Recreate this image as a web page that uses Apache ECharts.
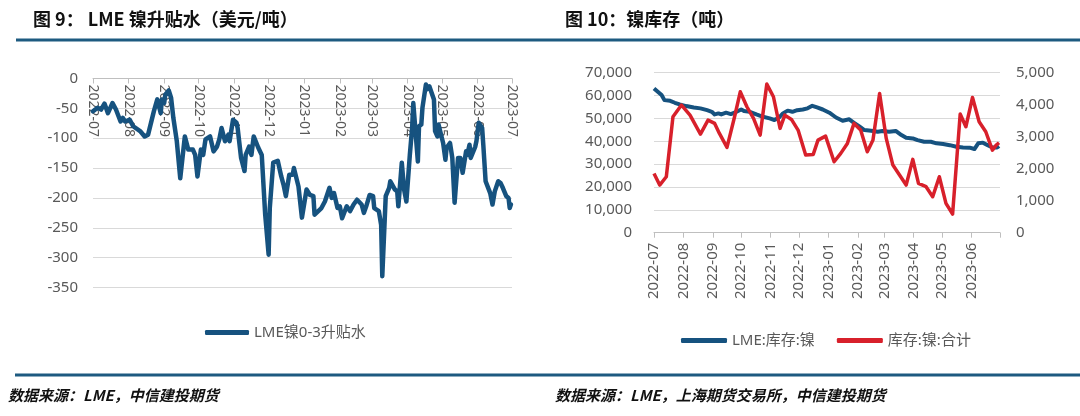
<!DOCTYPE html>
<html>
<head>
<meta charset="utf-8">
<script src="https://cdn.jsdelivr.net/npm/echarts@6/dist/echarts.min.js"></script>
<style>
  html, body { margin: 0; padding: 0; background: #fff; }
  #main { width: 1080px; height: 416px; }
</style>
</head>
<body>
<div id="main"></div>
<script>
// 图9：LME镍0-3升贴水
var spreadDates = ['2022-07-01','2022-07-05','2022-07-08','2022-07-11','2022-07-14','2022-07-18','2022-07-21','2022-07-25','2022-07-27','2022-07-29',
  '2022-08-02','2022-08-05','2022-08-11','2022-08-15','2022-08-18','2022-08-23','2022-08-26','2022-08-29','2022-08-30',
  '2022-09-01','2022-09-02','2022-09-05','2022-09-07','2022-09-09','2022-09-12','2022-09-15','2022-09-19','2022-09-22','2022-09-26','2022-09-28','2022-09-30',
  '2022-10-03','2022-10-05','2022-10-07','2022-10-11','2022-10-14','2022-10-17','2022-10-19','2022-10-21','2022-10-24','2022-10-27','2022-10-28','2022-10-31',
  '2022-11-03','2022-11-04','2022-11-07','2022-11-10','2022-11-11','2022-11-14','2022-11-16','2022-11-18','2022-11-22','2022-11-25','2022-11-28',
  '2022-12-01','2022-12-02','2022-12-05','2022-12-09','2022-12-12','2022-12-14','2022-12-16','2022-12-19','2022-12-22','2022-12-23','2022-12-27','2022-12-30',
  '2023-01-03','2023-01-06','2023-01-09','2023-01-10','2023-01-16','2023-01-19','2023-01-23','2023-01-25','2023-01-27','2023-01-30',
  '2023-02-01','2023-02-03','2023-02-07','2023-02-10','2023-02-13','2023-02-14','2023-02-16','2023-02-20','2023-02-22','2023-02-24','2023-02-27',
  '2023-03-02','2023-03-03','2023-03-07','2023-03-09','2023-03-10','2023-03-13','2023-03-16','2023-03-17','2023-03-21','2023-03-23','2023-03-24','2023-03-27','2023-03-29','2023-03-31',
  '2023-04-03','2023-04-05','2023-04-06','2023-04-10','2023-04-11','2023-04-13','2023-04-14','2023-04-17','2023-04-18','2023-04-20','2023-04-24','2023-04-25','2023-04-27','2023-04-28',
  '2023-05-02','2023-05-04','2023-05-05','2023-05-08','2023-05-10','2023-05-12','2023-05-15','2023-05-17','2023-05-19','2023-05-22','2023-05-23','2023-05-25','2023-05-26','2023-05-30','2023-05-31',
  '2023-06-02','2023-06-05','2023-06-06','2023-06-08','2023-06-12','2023-06-14','2023-06-16','2023-06-19','2023-06-21','2023-06-23','2023-06-26','2023-06-28','2023-06-29','2023-06-30'];
var spreadValues = [-55,-49,-52,-42,-58,-41,-52,-72,-66,-72,
  -69,-80,-88,-97,-94,-55,-35,-58,-35,
  -41,-27,-20,-32,-66,-105,-167,-97,-119,-119,-128,-164,
  -119,-128,-102,-97,-122,-114,-102,-83,-105,-94,-105,-69,
  -74,-83,-133,-155,-128,-114,-128,-97,-116,-128,-228,
  -295,-217,-141,-138,-164,-178,-197,-161,-161,-150,-181,-233,
  -186,-195,-197,-228,-217,-206,-183,-200,-192,-217,
  -214,-234,-214,-222,-211,-214,-203,-211,-225,-214,-195,
  -197,-217,-222,-245,-331,-197,-183,-172,-186,-189,-214,-141,-186,-206,
  -128,-83,-41,-139,-80,-77,-49,-10,-18,-13,-35,-88,-97,-77,
  -108,-136,-116,-108,-133,-208,-133,-133,-158,-122,-128,-111,-133,-114,-105,
  -74,-83,-111,-172,-192,-211,-189,-172,-175,-183,-197,-200,-217,-211];

// 图10：镍库存
var lmeStockDates = ['2022-07-01','2022-07-05','2022-07-09','2022-07-12','2022-07-18','2022-07-23','2022-07-28','2022-08-04','2022-08-12','2022-08-19','2022-08-26','2022-08-31',
  '2022-09-03','2022-09-07','2022-09-10','2022-09-15','2022-09-20','2022-09-26','2022-10-01','2022-10-04','2022-10-10','2022-10-17','2022-10-24','2022-10-31',
  '2022-11-05','2022-11-10','2022-11-14','2022-11-19','2022-11-24','2022-11-29','2022-12-05','2022-12-10','2022-12-15','2022-12-20','2022-12-26',
  '2023-01-02','2023-01-09','2023-01-16','2023-01-23','2023-01-28','2023-02-03','2023-02-08','2023-02-15','2023-02-22','2023-02-27',
  '2023-03-06','2023-03-13','2023-03-19','2023-03-24','2023-03-31','2023-04-05','2023-04-12','2023-04-19','2023-04-25',
  '2023-05-02','2023-05-09','2023-05-16','2023-05-23','2023-05-30','2023-06-04','2023-06-08','2023-06-13','2023-06-18','2023-06-23','2023-06-28','2023-06-30'];
var lmeStockValues = [63100,61660,60200,58000,57700,56850,56100,55400,54800,54400,53600,52900,
  51750,52200,51750,52500,51900,52900,53900,53200,52900,51750,50700,50000,
  49300,50400,52200,53400,52900,53600,53900,54400,55500,54800,53900,
  52500,50400,49000,49600,48100,46350,44900,44600,44200,44500,
  44200,44500,42700,41500,41250,40500,39800,39800,39100,
  38800,38300,37600,37300,37200,36600,39100,39400,38300,37300,37300,37900];

var shfeStockDates = ['2022-07-01','2022-07-07','2022-07-14','2022-07-21','2022-07-30','2022-08-08','2022-08-19','2022-08-27',
  '2022-09-03','2022-09-08','2022-09-16','2022-09-24','2022-09-30','2022-10-07','2022-10-14','2022-10-21','2022-10-28',
  '2022-11-04','2022-11-11','2022-11-16','2022-11-23','2022-11-30','2022-12-08','2022-12-16','2022-12-21','2022-12-29',
  '2023-01-07','2023-01-14','2023-01-21','2023-01-28','2023-02-04','2023-02-11','2023-02-17','2023-02-24',
  '2023-03-03','2023-03-10','2023-03-17','2023-03-24','2023-03-31','2023-04-06','2023-04-14','2023-04-21','2023-04-28',
  '2023-05-05','2023-05-12','2023-05-20','2023-05-26','2023-06-02','2023-06-09','2023-06-16','2023-06-23','2023-06-27','2023-06-30'];
var shfeStockValues = [1853,1489,1749,3623,3988,3675,3082,3519,
  3415,3103,2665,3623,4404,3936,3571,3051,4644,
  4248,3259,3675,3540,3207,2426,2447,2894,3019,
  2218,2478,2790,3415,3207,2530,2894,4352,
  2947,2114,1801,1489,2291,1541,1437,1124,1749,
  916,583,3707,3311,4227,3467,3155,2582,2738,2811];

var BLUE = '#16527F';
var RED = '#D8202B';
var GREY = '#595959';
var FONT = '"Noto Sans", "Noto Sans CJK SC", sans-serif';

function zip(xs, ys) {
  return xs.map(function (x, i) { return [x, ys[i]]; });
}
function monthLabel(v) {
  var d = new Date(v);
  var m = d.getMonth() + 1;
  return d.getFullYear() + '-' + (m < 10 ? '0' + m : m);
}
// 右图横轴最后一个刻度不写标签
function monthLabelNoLast(v) {
  var s = monthLabel(v);
  return s === '2023-07' ? '' : s;
}
function thousands(v) {
  return String(v).replace(/\B(?=(\d{3})+(?!\d))/g, ',');
}

var myChart = echarts.init(document.getElementById('main'), null, { renderer: 'canvas' });

var option = {
  backgroundColor: '#fff',
  animation: false,
  textStyle: { fontFamily: FONT },
  title: [
    { text: '图 9： LME 镍升贴水（美元/吨）', left: 28, top: 5,
      textStyle: { fontSize: 18, fontWeight: 'bold', color: '#111', fontFamily: '"Noto Sans CJK SC", sans-serif' } },
    { text: '图 10：镍库存（吨）', left: 560, top: 5,
      textStyle: { fontSize: 18, fontWeight: 'bold', color: '#111', fontFamily: '"Noto Sans CJK SC", sans-serif' } },
    { text: '数据来源：LME，中信建投期货', left: 3, top: 383,
      textStyle: { fontSize: 15, fontWeight: 'bold', fontStyle: 'italic', color: '#111', fontFamily: '"Noto Sans CJK SC", serif' } },
    { text: '数据来源：LME，上海期货交易所，中信建投期货', left: 550, top: 383,
      textStyle: { fontSize: 15, fontWeight: 'bold', fontStyle: 'italic', color: '#111', fontFamily: '"Noto Sans CJK SC", serif' } }
  ],
  graphic: [
    { type: 'rect', shape: { x: 16, y: 38.5, width: 1064, height: 3 }, style: { fill: '#1D5A80' } },
    { type: 'rect', shape: { x: 15, y: 373.5, width: 1065, height: 3 }, style: { fill: '#1D5A80' } }
  ],
  legend: [
    { data: ['LME镍0-3升贴水'], left: 200, top: 320, icon: 'roundRect', itemWidth: 44, itemHeight: 5,
      textStyle: { color: GREY, fontSize: 15, fontFamily: FONT } },
    { data: ['LME:库存:镍', '库存:镍:合计'], left: 676, top: 328, icon: 'roundRect', itemWidth: 46, itemHeight: 5, itemGap: 22,
      textStyle: { color: GREY, fontSize: 15, fontFamily: FONT } }
  ],
  grid: [
    { left: 93, right: 568, top: 78.5, bottom: 128.5 },
    { left: 654, right: 80, top: 72.7, bottom: 183.3 }
  ],
  xAxis: [
    { type: 'time', gridIndex: 0, position: 'top', min: '2022-07-01', max: '2023-07-01', splitNumber: 12,
      minInterval: 28 * 86400000, maxInterval: 31 * 86400000,
      axisLine: { show: true, onZero: false, lineStyle: { color: '#BFBFBF' } },
      axisTick: { show: true, inside: true, length: 5, lineStyle: { color: '#BFBFBF' } },
      axisLabel: { inside: true, rotate: 90, color: GREY, fontSize: 14, margin: 6, formatter: monthLabel, hideOverlap: false },
      splitLine: { show: false } },
    { type: 'time', gridIndex: 1, min: '2022-07-01', max: '2023-07-01', splitNumber: 12,
      minInterval: 28 * 86400000, maxInterval: 31 * 86400000,
      axisLine: { show: true, lineStyle: { color: '#BFBFBF' } },
      axisTick: { show: true, length: 5, lineStyle: { color: '#BFBFBF' } },
      axisLabel: { rotate: 90, color: GREY, fontSize: 15, margin: 10, formatter: monthLabelNoLast, hideOverlap: false },
      splitLine: { show: false } }
  ],
  yAxis: [
    { type: 'value', gridIndex: 0, min: -350, max: 0, interval: 50,
      axisLine: { show: false }, axisTick: { show: false },
      axisLabel: { color: GREY, fontSize: 15, margin: 15 },
      splitLine: { lineStyle: { color: '#D9D9D9', width: 1 } } },
    { type: 'value', gridIndex: 1, min: 0, max: 70000, interval: 10000,
      axisLine: { show: false }, axisTick: { show: false },
      axisLabel: { color: GREY, fontSize: 15, margin: 22, formatter: thousands },
      splitLine: { lineStyle: { color: '#D9D9D9', width: 1 } } },
    { type: 'value', gridIndex: 1, position: 'right', min: 0, max: 5000, interval: 1000,
      axisLine: { show: false }, axisTick: { show: false },
      axisLabel: { color: GREY, fontSize: 15, margin: 16, formatter: thousands },
      splitLine: { show: false } }
  ],
  series: [
    { name: 'LME镍0-3升贴水', type: 'line', xAxisIndex: 0, yAxisIndex: 0,
      data: zip(spreadDates, spreadValues), showSymbol: false, color: BLUE,
      lineStyle: { width: 4.5, color: BLUE, join: 'round', cap: 'round' } },
    { name: 'LME:库存:镍', type: 'line', xAxisIndex: 1, yAxisIndex: 1,
      data: zip(lmeStockDates, lmeStockValues), showSymbol: false, color: BLUE,
      lineStyle: { width: 4, color: BLUE, join: 'round' } },
    { name: '库存:镍:合计', type: 'line', xAxisIndex: 1, yAxisIndex: 2,
      data: zip(shfeStockDates, shfeStockValues), showSymbol: false, color: RED,
      lineStyle: { width: 3.5, color: RED, join: 'round' } }
  ]
};

myChart.setOption(option);
</script>
</body>
</html>
